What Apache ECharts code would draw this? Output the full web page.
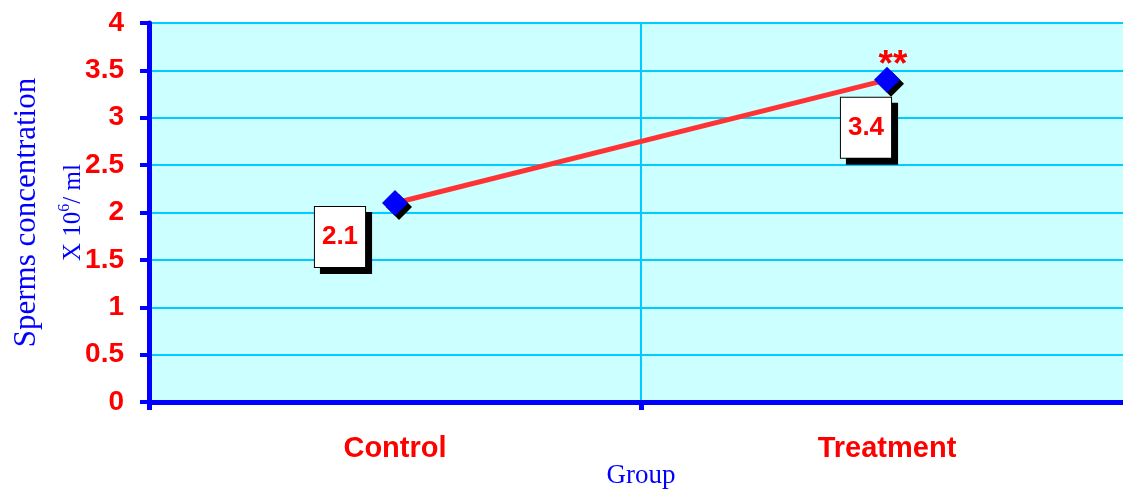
<!DOCTYPE html>
<html>
<head>
<meta charset="utf-8">
<script src="https://cdn.jsdelivr.net/npm/echarts@6/dist/echarts.min.js"></script>
<style>
  html, body { margin: 0; padding: 0; background: #fff; }
  #chart1 { width: 1123px; height: 489px; }
</style>
</head>
<body>
<div id="chart1"></div>
<script>
var groups = ['Control', 'Treatment'];
var concentration = [2.1, 3.4];
var yTicks = [0, 0.5, 1, 1.5, 2, 2.5, 3, 3.5, 4];
var labelOffsets = [[-55, 34], [-21, 48]];

var chart = echarts.init(document.getElementById('chart1'));

var blue = '#0000FF';
var red = '#FF0000';

var option = {
    animation: false,
    grid: {
        left: 149, top: 23, bottom: 87, right: -10,
        outerBoundsMode: 'none',
        containLabel: false,
        show: true,
        backgroundColor: '#CCFFFF',
        borderWidth: 0
    },
    xAxis: {
        type: 'category',
        data: groups,
        boundaryGap: true,
        name: 'Group',
        nameLocation: 'middle',
        nameGap: 60,
        nameMoveOverlap: false,
        nameTextStyle: { color: blue, fontFamily: 'Liberation Serif', fontSize: 27 },
        axisLine: { lineStyle: { color: blue, width: 5 } },
        axisTick: { show: true, length: 8, lineStyle: { color: blue, width: 5 } },
        axisLabel: { color: red, fontFamily: 'Liberation Sans', fontWeight: 'bold', fontSize: 29, margin: 32 },
        splitLine: { show: true, lineStyle: { color: '#00CCFF', width: 2 } }
    },
    yAxis: {
        type: 'value',
        min: yTicks[0],
        max: yTicks[yTicks.length - 1],
        interval: 0.5,
        name: '{a|Sperms concentration}\n{b|X 10}{c|6}{b|/ ml}',
        nameLocation: 'middle',
        nameRotate: 90,
        nameGap: 60,
        nameMoveOverlap: false,
        nameTextStyle: {
            rich: {
                a: { color: blue, fontFamily: 'Liberation Serif', fontSize: 31, lineHeight: 60 },
                b: { color: blue, fontFamily: 'Liberation Serif', fontSize: 25, lineHeight: 32 },
                c: { color: blue, fontFamily: 'Liberation Serif', fontSize: 16, verticalAlign: 'top', padding: [0, 0, 12, 0] }
            }
        },
        axisLine: { show: true, lineStyle: { color: blue, width: 5 } },
        axisTick: { show: true, length: 9, lineStyle: { color: blue, width: 4 } },
        axisLabel: {
            color: red, fontFamily: 'Liberation Sans', fontWeight: 'bold', fontSize: 28, margin: 25,
            formatter: function (v) { return String(v); }
        },
        splitLine: { show: true, lineStyle: { color: '#00CCFF', width: 2 } }
    },
    series: [{
        type: 'line',
        data: concentration.map(function (v, i) {
            return {
                value: v,
                label: { offset: labelOffsets[i] }
            };
        }),
        lineStyle: { color: '#FF3333', width: 5 },
        symbol: 'diamond',
        symbolSize: 26,
        itemStyle: {
            color: blue,
            shadowColor: '#000', shadowBlur: 0, shadowOffsetX: 4, shadowOffsetY: 4
        },
        label: {
            show: true,
            position: 'inside',
            color: red,
            fontFamily: 'Liberation Sans',
            fontWeight: 'bold',
            fontSize: 26,
            backgroundColor: '#fff',
            borderColor: '#000',
            borderWidth: 1,
            padding: [18, 7, 16, 7],
            shadowColor: '#000', shadowBlur: 0, shadowOffsetX: 6, shadowOffsetY: 6
        },
        markPoint: {
            symbol: 'rect',
            symbolSize: 1,
            itemStyle: { color: 'rgba(0,0,0,0)' },
            data: [{ coord: [1, concentration[1]], value: 1 }],
            label: {
                show: true, position: 'inside', color: red, fontFamily: 'Liberation Sans', fontWeight: 'bold', fontSize: 37,
                offset: [6, -14], formatter: '**'
            }
        },
        z: 3
    }]
};

chart.setOption(option);
</script>
</body>
</html>
